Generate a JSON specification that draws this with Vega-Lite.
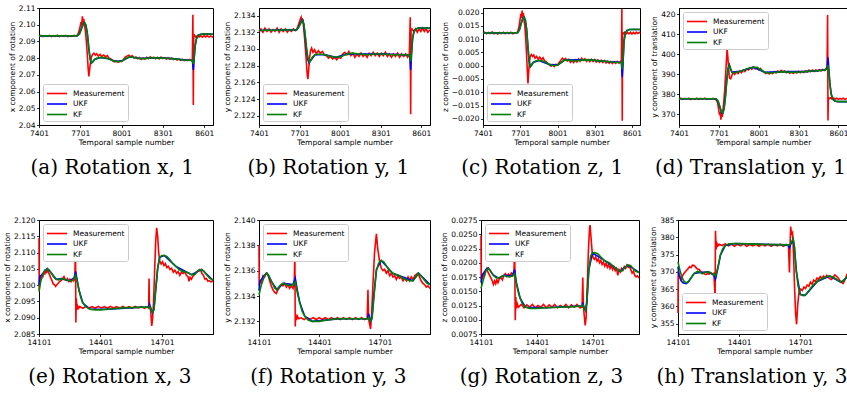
{
"$schema": "https://vega.github.io/schema/vega-lite/v6.json",
"background": "white",
"padding": {"left": 3, "top": 3, "right": 0, "bottom": 0},
"config": {
 "font": "DejaVu Sans",
 "view": {"stroke": "#000", "strokeWidth": 1},
 "axis": {"grid": false, "domainColor": "#000", "tickColor": "#000", "labelColor": "#000", "titleColor": "#000", "labelFontSize": 7.5, "titleFontSize": 7.5, "titleFontWeight": "normal", "labelFont": "DejaVu Sans", "titleFont": "DejaVu Sans", "tickSize": 2.5, "labelPadding": 1.5, "titlePadding": 2, "labelFlush": false, "labelOverlap": false, "domainWidth": 1, "tickWidth": 0.8},
 "legend": {"symbolType": "M-1,0H2.64", "symbolSize": 121, "symbolStrokeWidth": 2, "labelFontSize": 7.5, "labelFont": "DejaVu Sans", "labelColor": "#000", "padding": 3, "rowPadding": 0.5, "labelOffset": 14, "fillColor": "white", "strokeColor": "#cccccc", "cornerRadius": 2, "offset": 4},
 "title": {"font": "DejaVu Serif", "fontSize": 20, "fontWeight": "normal", "color": "#000", "orient": "bottom", "anchor": "middle", "frame": "bounds", "offset": 12},
 "line": {"strokeWidth": 1.6, "clip": true}
},
"datasets": {
"a": [
{"t":7401,"s":"M","v":2.0932},{"t":7415,"s":"M","v":2.0936},{"t":7430,"s":"M","v":2.0929},{"t":7445,"s":"M","v":2.0935},{"t":7460,"s":"M","v":2.0930},{"t":7475,"s":"M","v":2.0936},{"t":7490,"s":"M","v":2.0929},{"t":7505,"s":"M","v":2.0934},{"t":7520,"s":"M","v":2.0930},{"t":7535,"s":"M","v":2.0937},{"t":7550,"s":"M","v":2.0929},{"t":7565,"s":"M","v":2.0935},{"t":7580,"s":"M","v":2.0930},{"t":7595,"s":"M","v":2.0936},{"t":7610,"s":"M","v":2.0929},{"t":7625,"s":"M","v":2.0934},{"t":7640,"s":"M","v":2.0930},{"t":7655,"s":"M","v":2.0936},{"t":7670,"s":"M","v":2.0932},{"t":7682,"s":"M","v":2.0940},{"t":7692,"s":"M","v":2.0962},{"t":7700,"s":"M","v":2.0990},{"t":7706,"s":"M","v":2.1015},{"t":7711,"s":"M","v":2.0995},{"t":7716,"s":"M","v":2.1050},{"t":7721,"s":"M","v":2.1002},{"t":7726,"s":"M","v":2.1035},{"t":7731,"s":"M","v":2.0995},{"t":7738,"s":"M","v":2.0965},{"t":7745,"s":"M","v":2.0900},{"t":7752,"s":"M","v":2.0820},{"t":7758,"s":"M","v":2.0740},{"t":7763,"s":"M","v":2.0690},{"t":7768,"s":"M","v":2.0725},{"t":7774,"s":"M","v":2.0770},{"t":7781,"s":"M","v":2.0805},{"t":7790,"s":"M","v":2.0822},{"t":7800,"s":"M","v":2.0830},{"t":7810,"s":"M","v":2.0818},{"t":7820,"s":"M","v":2.0826},{"t":7832,"s":"M","v":2.0812},{"t":7845,"s":"M","v":2.0822},{"t":7858,"s":"M","v":2.0810},{"t":7871,"s":"M","v":2.0819},{"t":7884,"s":"M","v":2.0808},{"t":7897,"s":"M","v":2.0815},{"t":7910,"s":"M","v":2.0800},{"t":7923,"s":"M","v":2.0795},{"t":7936,"s":"M","v":2.0784},{"t":7949,"s":"M","v":2.0778},{"t":7962,"s":"M","v":2.0784},{"t":7975,"s":"M","v":2.0776},{"t":7988,"s":"M","v":2.0783},{"t":8001,"s":"M","v":2.0779},{"t":8014,"s":"M","v":2.0790},{"t":8027,"s":"M","v":2.0806},{"t":8040,"s":"M","v":2.0812},{"t":8053,"s":"M","v":2.0818},{"t":8066,"s":"M","v":2.0808},{"t":8079,"s":"M","v":2.0814},{"t":8092,"s":"M","v":2.0801},{"t":8105,"s":"M","v":2.0807},{"t":8118,"s":"M","v":2.0796},{"t":8131,"s":"M","v":2.0803},{"t":8144,"s":"M","v":2.0792},{"t":8157,"s":"M","v":2.0801},{"t":8170,"s":"M","v":2.0794},{"t":8183,"s":"M","v":2.0805},{"t":8196,"s":"M","v":2.0797},{"t":8209,"s":"M","v":2.0808},{"t":8222,"s":"M","v":2.0799},{"t":8235,"s":"M","v":2.0806},{"t":8248,"s":"M","v":2.0797},{"t":8261,"s":"M","v":2.0805},{"t":8274,"s":"M","v":2.0796},{"t":8287,"s":"M","v":2.0806},{"t":8300,"s":"M","v":2.0797},{"t":8313,"s":"M","v":2.0803},{"t":8326,"s":"M","v":2.0795},{"t":8339,"s":"M","v":2.0802},{"t":8352,"s":"M","v":2.0794},{"t":8365,"s":"M","v":2.0800},{"t":8378,"s":"M","v":2.0791},{"t":8391,"s":"M","v":2.0797},{"t":8404,"s":"M","v":2.0788},{"t":8417,"s":"M","v":2.0794},{"t":8430,"s":"M","v":2.0787},{"t":8443,"s":"M","v":2.0793},{"t":8456,"s":"M","v":2.0786},{"t":8469,"s":"M","v":2.0791},{"t":8482,"s":"M","v":2.0785},{"t":8495,"s":"M","v":2.0792},{"t":8508,"s":"M","v":2.0786},{"t":8515,"s":"M","v":2.0795},{"t":8519,"s":"M","v":2.1060},{"t":8522,"s":"M","v":2.0520},{"t":8525,"s":"M","v":2.0930},{"t":8530,"s":"M","v":2.0938},{"t":8540,"s":"M","v":2.0926},{"t":8552,"s":"M","v":2.0935},{"t":8564,"s":"M","v":2.0927},{"t":8576,"s":"M","v":2.0934},{"t":8588,"s":"M","v":2.0926},{"t":8600,"s":"M","v":2.0935},{"t":8612,"s":"M","v":2.0927},{"t":8624,"s":"M","v":2.0934},{"t":8636,"s":"M","v":2.0926},{"t":8648,"s":"M","v":2.0933},{"t":8660,"s":"M","v":2.0927},{"t":8665,"s":"M","v":2.0931},
{"t":7401,"s":"U","v":2.0933},{"t":7680,"s":"U","v":2.0934},{"t":7695,"s":"U","v":2.0947},{"t":7710,"s":"U","v":2.0980},{"t":7722,"s":"U","v":2.1006},{"t":7732,"s":"U","v":2.1013},{"t":7742,"s":"U","v":2.0996},{"t":7752,"s":"U","v":2.0945},{"t":7762,"s":"U","v":2.0862},{"t":7772,"s":"U","v":2.0795},{"t":7782,"s":"U","v":2.0770},{"t":7792,"s":"U","v":2.0778},{"t":7805,"s":"U","v":2.0792},{"t":7845,"s":"U","v":2.0804},{"t":7905,"s":"U","v":2.0796},{"t":7960,"s":"U","v":2.0780},{"t":8010,"s":"U","v":2.0786},{"t":8060,"s":"U","v":2.0808},{"t":8130,"s":"U","v":2.0798},{"t":8250,"s":"U","v":2.0802},{"t":8370,"s":"U","v":2.0797},{"t":8490,"s":"U","v":2.0787},{"t":8515,"s":"U","v":2.0786},{"t":8522,"s":"U","v":2.0730},{"t":8528,"s":"U","v":2.0800},{"t":8535,"s":"U","v":2.0875},{"t":8545,"s":"U","v":2.0918},{"t":8558,"s":"U","v":2.0937},{"t":8575,"s":"U","v":2.0943},{"t":8600,"s":"U","v":2.0945},{"t":8665,"s":"U","v":2.0943},
{"t":7401,"s":"K","v":2.0933},{"t":7680,"s":"K","v":2.0934},{"t":7695,"s":"K","v":2.0945},{"t":7710,"s":"K","v":2.0975},{"t":7722,"s":"K","v":2.1003},{"t":7732,"s":"K","v":2.1012},{"t":7742,"s":"K","v":2.0998},{"t":7752,"s":"K","v":2.0950},{"t":7762,"s":"K","v":2.0870},{"t":7772,"s":"K","v":2.0800},{"t":7782,"s":"K","v":2.0772},{"t":7792,"s":"K","v":2.0778},{"t":7805,"s":"K","v":2.0792},{"t":7820,"s":"K","v":2.0799},{"t":7845,"s":"K","v":2.0804},{"t":7875,"s":"K","v":2.0803},{"t":7905,"s":"K","v":2.0796},{"t":7935,"s":"K","v":2.0786},{"t":7960,"s":"K","v":2.0780},{"t":7985,"s":"K","v":2.0779},{"t":8010,"s":"K","v":2.0786},{"t":8035,"s":"K","v":2.0800},{"t":8060,"s":"K","v":2.0808},{"t":8090,"s":"K","v":2.0804},{"t":8130,"s":"K","v":2.0798},{"t":8170,"s":"K","v":2.0797},{"t":8210,"s":"K","v":2.0801},{"t":8250,"s":"K","v":2.0802},{"t":8290,"s":"K","v":2.0800},{"t":8330,"s":"K","v":2.0799},{"t":8370,"s":"K","v":2.0797},{"t":8410,"s":"K","v":2.0793},{"t":8450,"s":"K","v":2.0789},{"t":8490,"s":"K","v":2.0787},{"t":8515,"s":"K","v":2.0786},{"t":8522,"s":"K","v":2.0765},{"t":8528,"s":"K","v":2.0800},{"t":8535,"s":"K","v":2.0870},{"t":8545,"s":"K","v":2.0915},{"t":8558,"s":"K","v":2.0935},{"t":8575,"s":"K","v":2.0942},{"t":8600,"s":"K","v":2.0945},{"t":8630,"s":"K","v":2.0944},{"t":8665,"s":"K","v":2.0943}
],
"b": [
{"t":7401,"s":"M","v":2.1321},{"t":7415,"s":"M","v":2.1324},{"t":7430,"s":"M","v":2.1320},{"t":7445,"s":"M","v":2.1325},{"t":7460,"s":"M","v":2.1321},{"t":7475,"s":"M","v":2.1324},{"t":7490,"s":"M","v":2.1320},{"t":7505,"s":"M","v":2.1323},{"t":7520,"s":"M","v":2.1321},{"t":7535,"s":"M","v":2.1325},{"t":7550,"s":"M","v":2.1320},{"t":7565,"s":"M","v":2.1324},{"t":7580,"s":"M","v":2.1321},{"t":7595,"s":"M","v":2.1324},{"t":7610,"s":"M","v":2.1320},{"t":7625,"s":"M","v":2.1323},{"t":7640,"s":"M","v":2.1321},{"t":7655,"s":"M","v":2.1324},{"t":7670,"s":"M","v":2.1322},{"t":7682,"s":"M","v":2.1324},{"t":7695,"s":"M","v":2.1330},{"t":7705,"s":"M","v":2.1335},{"t":7712,"s":"M","v":2.1338},{"t":7718,"s":"M","v":2.1333},{"t":7724,"s":"M","v":2.1336},{"t":7730,"s":"M","v":2.1327},{"t":7737,"s":"M","v":2.1315},{"t":7745,"s":"M","v":2.1298},{"t":7752,"s":"M","v":2.1282},{"t":7758,"s":"M","v":2.1268},{"t":7763,"s":"M","v":2.1264},{"t":7768,"s":"M","v":2.1275},{"t":7775,"s":"M","v":2.1290},{"t":7782,"s":"M","v":2.1298},{"t":7790,"s":"M","v":2.1301},{"t":7800,"s":"M","v":2.1296},{"t":7812,"s":"M","v":2.1299},{"t":7825,"s":"M","v":2.1294},{"t":7840,"s":"M","v":2.1298},{"t":7855,"s":"M","v":2.1295},{"t":7870,"s":"M","v":2.1297},{"t":7885,"s":"M","v":2.1293},{"t":7900,"s":"M","v":2.1292},{"t":7915,"s":"M","v":2.1289},{"t":7930,"s":"M","v":2.1291},{"t":7945,"s":"M","v":2.1288},{"t":7960,"s":"M","v":2.1290},{"t":7975,"s":"M","v":2.1287},{"t":7990,"s":"M","v":2.1290},{"t":8005,"s":"M","v":2.1289},{"t":8020,"s":"M","v":2.1294},{"t":8035,"s":"M","v":2.1296},{"t":8050,"s":"M","v":2.1293},{"t":8065,"s":"M","v":2.1297},{"t":8080,"s":"M","v":2.1292},{"t":8095,"s":"M","v":2.1295},{"t":8110,"s":"M","v":2.1290},{"t":8125,"s":"M","v":2.1294},{"t":8140,"s":"M","v":2.1291},{"t":8155,"s":"M","v":2.1295},{"t":8170,"s":"M","v":2.1291},{"t":8185,"s":"M","v":2.1294},{"t":8200,"s":"M","v":2.1290},{"t":8215,"s":"M","v":2.1295},{"t":8230,"s":"M","v":2.1292},{"t":8245,"s":"M","v":2.1296},{"t":8260,"s":"M","v":2.1292},{"t":8275,"s":"M","v":2.1295},{"t":8290,"s":"M","v":2.1291},{"t":8305,"s":"M","v":2.1295},{"t":8320,"s":"M","v":2.1292},{"t":8335,"s":"M","v":2.1296},{"t":8350,"s":"M","v":2.1291},{"t":8365,"s":"M","v":2.1294},{"t":8380,"s":"M","v":2.1290},{"t":8395,"s":"M","v":2.1294},{"t":8410,"s":"M","v":2.1291},{"t":8425,"s":"M","v":2.1295},{"t":8440,"s":"M","v":2.1290},{"t":8455,"s":"M","v":2.1294},{"t":8470,"s":"M","v":2.1291},{"t":8485,"s":"M","v":2.1294},{"t":8500,"s":"M","v":2.1290},{"t":8512,"s":"M","v":2.1293},{"t":8519,"s":"M","v":2.1338},{"t":8522,"s":"M","v":2.1222},{"t":8525,"s":"M","v":2.1322},{"t":8532,"s":"M","v":2.1324},{"t":8545,"s":"M","v":2.1321},{"t":8558,"s":"M","v":2.1324},{"t":8571,"s":"M","v":2.1320},{"t":8584,"s":"M","v":2.1324},{"t":8597,"s":"M","v":2.1321},{"t":8610,"s":"M","v":2.1325},{"t":8623,"s":"M","v":2.1321},{"t":8636,"s":"M","v":2.1324},{"t":8649,"s":"M","v":2.1320},{"t":8665,"s":"M","v":2.1323},
{"t":7401,"s":"U","v":2.1322},{"t":7680,"s":"U","v":2.1323},{"t":7695,"s":"U","v":2.1327},{"t":7710,"s":"U","v":2.1332},{"t":7722,"s":"U","v":2.1335},{"t":7732,"s":"U","v":2.1330},{"t":7742,"s":"U","v":2.1316},{"t":7752,"s":"U","v":2.1299},{"t":7762,"s":"U","v":2.1287},{"t":7772,"s":"U","v":2.1283},{"t":7782,"s":"U","v":2.1286},{"t":7815,"s":"U","v":2.1293},{"t":7890,"s":"U","v":2.1293},{"t":7970,"s":"U","v":2.1290},{"t":8050,"s":"U","v":2.1294},{"t":8140,"s":"U","v":2.1294},{"t":8320,"s":"U","v":2.1294},{"t":8500,"s":"U","v":2.1293},{"t":8515,"s":"U","v":2.1292},{"t":8522,"s":"U","v":2.1275},{"t":8528,"s":"U","v":2.1292},{"t":8536,"s":"U","v":2.1312},{"t":8546,"s":"U","v":2.1321},{"t":8560,"s":"U","v":2.1324},{"t":8580,"s":"U","v":2.1325},{"t":8665,"s":"U","v":2.1325},
{"t":7401,"s":"K","v":2.1322},{"t":7680,"s":"K","v":2.1323},{"t":7695,"s":"K","v":2.1326},{"t":7710,"s":"K","v":2.1331},{"t":7722,"s":"K","v":2.1334},{"t":7732,"s":"K","v":2.1330},{"t":7742,"s":"K","v":2.1318},{"t":7752,"s":"K","v":2.1302},{"t":7762,"s":"K","v":2.1290},{"t":7772,"s":"K","v":2.1284},{"t":7782,"s":"K","v":2.1286},{"t":7795,"s":"K","v":2.1290},{"t":7815,"s":"K","v":2.1293},{"t":7850,"s":"K","v":2.1294},{"t":7890,"s":"K","v":2.1293},{"t":7930,"s":"K","v":2.1291},{"t":7970,"s":"K","v":2.1290},{"t":8010,"s":"K","v":2.1291},{"t":8050,"s":"K","v":2.1294},{"t":8090,"s":"K","v":2.1295},{"t":8140,"s":"K","v":2.1294},{"t":8200,"s":"K","v":2.1293},{"t":8260,"s":"K","v":2.1294},{"t":8320,"s":"K","v":2.1294},{"t":8380,"s":"K","v":2.1293},{"t":8440,"s":"K","v":2.1293},{"t":8500,"s":"K","v":2.1293},{"t":8515,"s":"K","v":2.1292},{"t":8522,"s":"K","v":2.1285},{"t":8528,"s":"K","v":2.1295},{"t":8536,"s":"K","v":2.1312},{"t":8546,"s":"K","v":2.1320},{"t":8560,"s":"K","v":2.1324},{"t":8580,"s":"K","v":2.1325},{"t":8620,"s":"K","v":2.1325},{"t":8665,"s":"K","v":2.1325}
],
"c": [
{"t":7401,"s":"M","v":0.0122},{"t":7415,"s":"M","v":0.0126},{"t":7430,"s":"M","v":0.0120},{"t":7445,"s":"M","v":0.0125},{"t":7460,"s":"M","v":0.0121},{"t":7475,"s":"M","v":0.0127},{"t":7490,"s":"M","v":0.0120},{"t":7505,"s":"M","v":0.0124},{"t":7520,"s":"M","v":0.0119},{"t":7535,"s":"M","v":0.0125},{"t":7550,"s":"M","v":0.0121},{"t":7565,"s":"M","v":0.0126},{"t":7580,"s":"M","v":0.0120},{"t":7595,"s":"M","v":0.0125},{"t":7610,"s":"M","v":0.0121},{"t":7625,"s":"M","v":0.0126},{"t":7640,"s":"M","v":0.0120},{"t":7655,"s":"M","v":0.0124},{"t":7670,"s":"M","v":0.0123},{"t":7682,"s":"M","v":0.0130},{"t":7692,"s":"M","v":0.0150},{"t":7700,"s":"M","v":0.0175},{"t":7706,"s":"M","v":0.0195},{"t":7711,"s":"M","v":0.0180},{"t":7716,"s":"M","v":0.0207},{"t":7721,"s":"M","v":0.0185},{"t":7726,"s":"M","v":0.0198},{"t":7731,"s":"M","v":0.0170},{"t":7738,"s":"M","v":0.0150},{"t":7745,"s":"M","v":0.0100},{"t":7752,"s":"M","v":0.0040},{"t":7758,"s":"M","v":-0.0020},{"t":7763,"s":"M","v":-0.0067},{"t":7768,"s":"M","v":-0.0030},{"t":7774,"s":"M","v":0.0010},{"t":7781,"s":"M","v":0.0035},{"t":7790,"s":"M","v":0.0042},{"t":7800,"s":"M","v":0.0035},{"t":7810,"s":"M","v":0.0040},{"t":7820,"s":"M","v":0.0028},{"t":7832,"s":"M","v":0.0035},{"t":7845,"s":"M","v":0.0025},{"t":7858,"s":"M","v":0.0032},{"t":7871,"s":"M","v":0.0022},{"t":7884,"s":"M","v":0.0030},{"t":7897,"s":"M","v":0.0018},{"t":7910,"s":"M","v":0.0015},{"t":7923,"s":"M","v":0.0008},{"t":7936,"s":"M","v":0.0003},{"t":7949,"s":"M","v":-0.0002},{"t":7962,"s":"M","v":0.0004},{"t":7975,"s":"M","v":-0.0003},{"t":7988,"s":"M","v":0.0005},{"t":8001,"s":"M","v":0.0002},{"t":8014,"s":"M","v":0.0012},{"t":8027,"s":"M","v":0.0020},{"t":8040,"s":"M","v":0.0028},{"t":8053,"s":"M","v":0.0022},{"t":8066,"s":"M","v":0.0027},{"t":8079,"s":"M","v":0.0018},{"t":8092,"s":"M","v":0.0024},{"t":8105,"s":"M","v":0.0013},{"t":8118,"s":"M","v":0.0020},{"t":8131,"s":"M","v":0.0012},{"t":8144,"s":"M","v":0.0022},{"t":8157,"s":"M","v":0.0014},{"t":8170,"s":"M","v":0.0025},{"t":8183,"s":"M","v":0.0017},{"t":8196,"s":"M","v":0.0028},{"t":8209,"s":"M","v":0.0020},{"t":8222,"s":"M","v":0.0026},{"t":8235,"s":"M","v":0.0016},{"t":8248,"s":"M","v":0.0023},{"t":8261,"s":"M","v":0.0015},{"t":8274,"s":"M","v":0.0024},{"t":8287,"s":"M","v":0.0016},{"t":8300,"s":"M","v":0.0023},{"t":8313,"s":"M","v":0.0014},{"t":8326,"s":"M","v":0.0021},{"t":8339,"s":"M","v":0.0013},{"t":8352,"s":"M","v":0.0020},{"t":8365,"s":"M","v":0.0012},{"t":8378,"s":"M","v":0.0019},{"t":8391,"s":"M","v":0.0010},{"t":8404,"s":"M","v":0.0017},{"t":8417,"s":"M","v":0.0009},{"t":8430,"s":"M","v":0.0016},{"t":8443,"s":"M","v":0.0008},{"t":8456,"s":"M","v":0.0015},{"t":8469,"s":"M","v":0.0009},{"t":8482,"s":"M","v":0.0016},{"t":8495,"s":"M","v":0.0010},{"t":8508,"s":"M","v":0.0016},{"t":8515,"s":"M","v":0.0012},{"t":8519,"s":"M","v":0.0213},{"t":8522,"s":"M","v":-0.0207},{"t":8525,"s":"M","v":0.0125},{"t":8530,"s":"M","v":0.0120},{"t":8540,"s":"M","v":0.0126},{"t":8552,"s":"M","v":0.0119},{"t":8564,"s":"M","v":0.0125},{"t":8576,"s":"M","v":0.0120},{"t":8588,"s":"M","v":0.0126},{"t":8600,"s":"M","v":0.0119},{"t":8612,"s":"M","v":0.0125},{"t":8624,"s":"M","v":0.0120},{"t":8636,"s":"M","v":0.0126},{"t":8648,"s":"M","v":0.0121},{"t":8660,"s":"M","v":0.0125},{"t":8665,"s":"M","v":0.0122},
{"t":7401,"s":"U","v":0.0123},{"t":7680,"s":"U","v":0.0124},{"t":7695,"s":"U","v":0.0137},{"t":7710,"s":"U","v":0.0163},{"t":7722,"s":"U","v":0.0180},{"t":7732,"s":"U","v":0.0183},{"t":7742,"s":"U","v":0.0170},{"t":7752,"s":"U","v":0.0135},{"t":7762,"s":"U","v":0.0072},{"t":7772,"s":"U","v":0.0015},{"t":7782,"s":"U","v":-0.0004},{"t":7805,"s":"U","v":0.0012},{"t":7850,"s":"U","v":0.0020},{"t":7940,"s":"U","v":0.0004},{"t":8000,"s":"U","v":0.0002},{"t":8060,"s":"U","v":0.0022},{"t":8250,"s":"U","v":0.0022},{"t":8400,"s":"U","v":0.0016},{"t":8515,"s":"U","v":0.0012},{"t":8522,"s":"U","v":-0.0043},{"t":8528,"s":"U","v":0.0005},{"t":8536,"s":"U","v":0.0092},{"t":8546,"s":"U","v":0.0122},{"t":8560,"s":"U","v":0.0133},{"t":8580,"s":"U","v":0.0136},{"t":8665,"s":"U","v":0.0136},
{"t":7401,"s":"K","v":0.0123},{"t":7680,"s":"K","v":0.0124},{"t":7695,"s":"K","v":0.0135},{"t":7710,"s":"K","v":0.0160},{"t":7722,"s":"K","v":0.0178},{"t":7732,"s":"K","v":0.0183},{"t":7742,"s":"K","v":0.0172},{"t":7752,"s":"K","v":0.0140},{"t":7762,"s":"K","v":0.0080},{"t":7772,"s":"K","v":0.0020},{"t":7782,"s":"K","v":-0.0003},{"t":7792,"s":"K","v":0.0002},{"t":7805,"s":"K","v":0.0012},{"t":7825,"s":"K","v":0.0018},{"t":7850,"s":"K","v":0.0020},{"t":7880,"s":"K","v":0.0018},{"t":7910,"s":"K","v":0.0012},{"t":7940,"s":"K","v":0.0004},{"t":7970,"s":"K","v":0.0000},{"t":8000,"s":"K","v":0.0002},{"t":8030,"s":"K","v":0.0012},{"t":8060,"s":"K","v":0.0022},{"t":8100,"s":"K","v":0.0020},{"t":8150,"s":"K","v":0.0018},{"t":8200,"s":"K","v":0.0021},{"t":8250,"s":"K","v":0.0022},{"t":8300,"s":"K","v":0.0020},{"t":8350,"s":"K","v":0.0018},{"t":8400,"s":"K","v":0.0016},{"t":8450,"s":"K","v":0.0013},{"t":8500,"s":"K","v":0.0012},{"t":8515,"s":"K","v":0.0012},{"t":8522,"s":"K","v":-0.0013},{"t":8528,"s":"K","v":0.0015},{"t":8536,"s":"K","v":0.0090},{"t":8546,"s":"K","v":0.0120},{"t":8560,"s":"K","v":0.0132},{"t":8580,"s":"K","v":0.0136},{"t":8620,"s":"K","v":0.0137},{"t":8665,"s":"K","v":0.0136}
],
"d": [
{"t":7401,"s":"M","v":377.5},{"t":7415,"s":"M","v":377.9},{"t":7430,"s":"M","v":377.3},{"t":7445,"s":"M","v":377.8},{"t":7460,"s":"M","v":377.4},{"t":7475,"s":"M","v":377.9},{"t":7490,"s":"M","v":377.2},{"t":7505,"s":"M","v":377.7},{"t":7520,"s":"M","v":377.4},{"t":7535,"s":"M","v":377.9},{"t":7550,"s":"M","v":377.3},{"t":7565,"s":"M","v":377.8},{"t":7580,"s":"M","v":377.4},{"t":7595,"s":"M","v":377.9},{"t":7610,"s":"M","v":377.3},{"t":7625,"s":"M","v":377.7},{"t":7640,"s":"M","v":377.4},{"t":7655,"s":"M","v":377.8},{"t":7670,"s":"M","v":377.5},{"t":7682,"s":"M","v":377.0},{"t":7692,"s":"M","v":375.5},{"t":7700,"s":"M","v":372.0},{"t":7706,"s":"M","v":369.5},{"t":7711,"s":"M","v":371.0},{"t":7716,"s":"M","v":367.2},{"t":7721,"s":"M","v":370.0},{"t":7726,"s":"M","v":368.5},{"t":7731,"s":"M","v":371.5},{"t":7738,"s":"M","v":376.0},{"t":7745,"s":"M","v":382.0},{"t":7752,"s":"M","v":390.0},{"t":7758,"s":"M","v":397.0},{"t":7763,"s":"M","v":402.4},{"t":7768,"s":"M","v":399.0},{"t":7774,"s":"M","v":393.0},{"t":7781,"s":"M","v":388.0},{"t":7790,"s":"M","v":387.6},{"t":7800,"s":"M","v":389.5},{"t":7810,"s":"M","v":390.8},{"t":7820,"s":"M","v":389.8},{"t":7832,"s":"M","v":391.0},{"t":7845,"s":"M","v":390.2},{"t":7858,"s":"M","v":391.5},{"t":7871,"s":"M","v":390.6},{"t":7884,"s":"M","v":392.0},{"t":7897,"s":"M","v":391.2},{"t":7910,"s":"M","v":392.6},{"t":7923,"s":"M","v":392.0},{"t":7936,"s":"M","v":393.2},{"t":7949,"s":"M","v":392.4},{"t":7962,"s":"M","v":393.5},{"t":7975,"s":"M","v":392.6},{"t":7988,"s":"M","v":393.3},{"t":8001,"s":"M","v":392.2},{"t":8014,"s":"M","v":392.8},{"t":8027,"s":"M","v":391.4},{"t":8040,"s":"M","v":391.0},{"t":8053,"s":"M","v":390.2},{"t":8066,"s":"M","v":390.8},{"t":8079,"s":"M","v":390.0},{"t":8092,"s":"M","v":390.9},{"t":8105,"s":"M","v":390.2},{"t":8118,"s":"M","v":391.2},{"t":8131,"s":"M","v":390.5},{"t":8144,"s":"M","v":391.5},{"t":8157,"s":"M","v":391.0},{"t":8170,"s":"M","v":391.8},{"t":8183,"s":"M","v":391.0},{"t":8196,"s":"M","v":391.5},{"t":8209,"s":"M","v":390.6},{"t":8222,"s":"M","v":391.2},{"t":8235,"s":"M","v":390.4},{"t":8248,"s":"M","v":391.0},{"t":8261,"s":"M","v":390.3},{"t":8274,"s":"M","v":391.1},{"t":8287,"s":"M","v":390.5},{"t":8300,"s":"M","v":391.3},{"t":8313,"s":"M","v":390.6},{"t":8326,"s":"M","v":391.4},{"t":8339,"s":"M","v":390.8},{"t":8352,"s":"M","v":391.6},{"t":8365,"s":"M","v":391.0},{"t":8378,"s":"M","v":391.9},{"t":8391,"s":"M","v":391.2},{"t":8404,"s":"M","v":392.0},{"t":8417,"s":"M","v":391.3},{"t":8430,"s":"M","v":392.0},{"t":8443,"s":"M","v":391.4},{"t":8456,"s":"M","v":392.1},{"t":8469,"s":"M","v":391.6},{"t":8482,"s":"M","v":392.3},{"t":8495,"s":"M","v":391.8},{"t":8508,"s":"M","v":392.8},{"t":8515,"s":"M","v":393.5},{"t":8519,"s":"M","v":419.5},{"t":8522,"s":"M","v":366.7},{"t":8525,"s":"M","v":378.2},{"t":8530,"s":"M","v":377.6},{"t":8540,"s":"M","v":378.1},{"t":8552,"s":"M","v":377.5},{"t":8564,"s":"M","v":378.0},{"t":8576,"s":"M","v":377.4},{"t":8588,"s":"M","v":377.9},{"t":8600,"s":"M","v":377.3},{"t":8612,"s":"M","v":377.8},{"t":8624,"s":"M","v":377.4},{"t":8636,"s":"M","v":377.9},{"t":8648,"s":"M","v":377.3},{"t":8660,"s":"M","v":377.7},{"t":8665,"s":"M","v":377.5},
{"t":7401,"s":"U","v":377.6},{"t":7680,"s":"U","v":377.6},{"t":7695,"s":"U","v":376.3},{"t":7710,"s":"U","v":373.0},{"t":7722,"s":"U","v":370.4},{"t":7730,"s":"U","v":370.3},{"t":7740,"s":"U","v":372.8},{"t":7750,"s":"U","v":378.8},{"t":7760,"s":"U","v":387.0},{"t":7770,"s":"U","v":392.8},{"t":7780,"s":"U","v":394.6},{"t":7790,"s":"U","v":392.3},{"t":7800,"s":"U","v":390.8},{"t":7870,"s":"U","v":391.5},{"t":7960,"s":"U","v":393.4},{"t":8050,"s":"U","v":390.8},{"t":8190,"s":"U","v":391.2},{"t":8350,"s":"U","v":391.2},{"t":8500,"s":"U","v":392.0},{"t":8515,"s":"U","v":393.0},{"t":8522,"s":"U","v":398.3},{"t":8528,"s":"U","v":393.0},{"t":8536,"s":"U","v":385.5},{"t":8546,"s":"U","v":380.0},{"t":8558,"s":"U","v":377.3},{"t":8575,"s":"U","v":376.4},{"t":8600,"s":"U","v":376.2},{"t":8665,"s":"U","v":376.2},
{"t":7401,"s":"K","v":377.6},{"t":7680,"s":"K","v":377.6},{"t":7695,"s":"K","v":376.5},{"t":7710,"s":"K","v":373.5},{"t":7722,"s":"K","v":370.8},{"t":7730,"s":"K","v":370.5},{"t":7740,"s":"K","v":372.5},{"t":7750,"s":"K","v":378.0},{"t":7760,"s":"K","v":386.0},{"t":7770,"s":"K","v":392.0},{"t":7780,"s":"K","v":394.5},{"t":7790,"s":"K","v":392.5},{"t":7800,"s":"K","v":390.8},{"t":7815,"s":"K","v":390.5},{"t":7840,"s":"K","v":391.0},{"t":7870,"s":"K","v":391.5},{"t":7900,"s":"K","v":392.3},{"t":7930,"s":"K","v":393.0},{"t":7960,"s":"K","v":393.4},{"t":7990,"s":"K","v":393.2},{"t":8020,"s":"K","v":392.0},{"t":8050,"s":"K","v":390.8},{"t":8080,"s":"K","v":390.5},{"t":8110,"s":"K","v":390.6},{"t":8150,"s":"K","v":391.0},{"t":8190,"s":"K","v":391.2},{"t":8230,"s":"K","v":390.9},{"t":8270,"s":"K","v":390.8},{"t":8310,"s":"K","v":391.0},{"t":8350,"s":"K","v":391.2},{"t":8390,"s":"K","v":391.4},{"t":8430,"s":"K","v":391.6},{"t":8470,"s":"K","v":391.8},{"t":8500,"s":"K","v":392.0},{"t":8515,"s":"K","v":392.5},{"t":8522,"s":"K","v":394.5},{"t":8528,"s":"K","v":391.5},{"t":8536,"s":"K","v":385.0},{"t":8546,"s":"K","v":380.0},{"t":8558,"s":"K","v":377.5},{"t":8575,"s":"K","v":376.5},{"t":8600,"s":"K","v":376.2},{"t":8665,"s":"K","v":376.2}
],
"e": [
{"t":14101,"s":"M","v":2.1145},{"t":14102,"s":"M","v":2.0985},{"t":14104,"s":"M","v":2.1010},{"t":14109,"s":"M","v":2.1025},{"t":14113,"s":"M","v":2.1020},{"t":14117,"s":"M","v":2.1032},{"t":14121,"s":"M","v":2.1028},{"t":14125,"s":"M","v":2.1038},{"t":14130,"s":"M","v":2.1035},{"t":14134,"s":"M","v":2.1044},{"t":14138,"s":"M","v":2.1040},{"t":14142,"s":"M","v":2.1048},{"t":14147,"s":"M","v":2.1038},{"t":14152,"s":"M","v":2.1033},{"t":14158,"s":"M","v":2.1022},{"t":14164,"s":"M","v":2.1015},{"t":14170,"s":"M","v":2.1004},{"t":14176,"s":"M","v":2.1002},{"t":14182,"s":"M","v":2.0996},{"t":14188,"s":"M","v":2.1001},{"t":14194,"s":"M","v":2.1005},{"t":14200,"s":"M","v":2.1010},{"t":14206,"s":"M","v":2.1013},{"t":14212,"s":"M","v":2.1016},{"t":14218,"s":"M","v":2.1022},{"t":14223,"s":"M","v":2.1026},{"t":14228,"s":"M","v":2.1018},{"t":14234,"s":"M","v":2.1015},{"t":14240,"s":"M","v":2.1020},{"t":14246,"s":"M","v":2.1012},{"t":14252,"s":"M","v":2.1018},{"t":14258,"s":"M","v":2.1011},{"t":14264,"s":"M","v":2.1017},{"t":14270,"s":"M","v":2.1013},{"t":14276,"s":"M","v":2.1022},{"t":14279,"s":"M","v":2.1130},{"t":14281,"s":"M","v":2.0885},{"t":14283,"s":"M","v":2.0960},{"t":14286,"s":"M","v":2.0924},{"t":14290,"s":"M","v":2.0936},{"t":14295,"s":"M","v":2.0929},{"t":14300,"s":"M","v":2.0934},{"t":14315,"s":"M","v":2.0929},{"t":14330,"s":"M","v":2.0935},{"t":14345,"s":"M","v":2.0930},{"t":14360,"s":"M","v":2.0934},{"t":14375,"s":"M","v":2.0929},{"t":14390,"s":"M","v":2.0935},{"t":14405,"s":"M","v":2.0930},{"t":14420,"s":"M","v":2.0934},{"t":14435,"s":"M","v":2.0929},{"t":14450,"s":"M","v":2.0935},{"t":14465,"s":"M","v":2.0930},{"t":14480,"s":"M","v":2.0934},{"t":14495,"s":"M","v":2.0929},{"t":14510,"s":"M","v":2.0935},{"t":14525,"s":"M","v":2.0930},{"t":14540,"s":"M","v":2.0934},{"t":14555,"s":"M","v":2.0929},{"t":14570,"s":"M","v":2.0935},{"t":14585,"s":"M","v":2.0930},{"t":14600,"s":"M","v":2.0934},{"t":14615,"s":"M","v":2.0929},{"t":14630,"s":"M","v":2.0934},{"t":14636,"s":"M","v":2.0930},{"t":14638,"s":"M","v":2.1020},{"t":14640,"s":"M","v":2.0928},{"t":14644,"s":"M","v":2.0935},{"t":14648,"s":"M","v":2.0905},{"t":14651,"s":"M","v":2.0875},{"t":14655,"s":"M","v":2.0895},{"t":14660,"s":"M","v":2.0950},{"t":14665,"s":"M","v":2.1040},{"t":14670,"s":"M","v":2.1130},{"t":14675,"s":"M","v":2.1176},{"t":14680,"s":"M","v":2.1150},{"t":14685,"s":"M","v":2.1100},{"t":14690,"s":"M","v":2.1075},{"t":14697,"s":"M","v":2.1065},{"t":14704,"s":"M","v":2.1072},{"t":14711,"s":"M","v":2.1060},{"t":14718,"s":"M","v":2.1066},{"t":14725,"s":"M","v":2.1054},{"t":14732,"s":"M","v":2.1058},{"t":14740,"s":"M","v":2.1048},{"t":14748,"s":"M","v":2.1052},{"t":14756,"s":"M","v":2.1040},{"t":14764,"s":"M","v":2.1046},{"t":14772,"s":"M","v":2.1036},{"t":14780,"s":"M","v":2.1042},{"t":14788,"s":"M","v":2.1030},{"t":14796,"s":"M","v":2.1040},{"t":14804,"s":"M","v":2.1036},{"t":14812,"s":"M","v":2.1042},{"t":14820,"s":"M","v":2.1030},{"t":14828,"s":"M","v":2.1026},{"t":14833,"s":"M","v":2.1012},{"t":14838,"s":"M","v":2.1024},{"t":14845,"s":"M","v":2.1018},{"t":14852,"s":"M","v":2.1028},{"t":14860,"s":"M","v":2.1032},{"t":14868,"s":"M","v":2.1040},{"t":14876,"s":"M","v":2.1044},{"t":14884,"s":"M","v":2.1048},{"t":14890,"s":"M","v":2.1045},{"t":14897,"s":"M","v":2.1035},{"t":14904,"s":"M","v":2.1030},{"t":14911,"s":"M","v":2.1018},{"t":14918,"s":"M","v":2.1020},{"t":14925,"s":"M","v":2.1012},{"t":14932,"s":"M","v":2.1014},{"t":14940,"s":"M","v":2.1010},{"t":14950,"s":"M","v":2.1012},
{"t":14101,"s":"U","v":2.1000},{"t":14105,"s":"U","v":2.1028},{"t":14112,"s":"U","v":2.1030},{"t":14120,"s":"U","v":2.1035},{"t":14130,"s":"U","v":2.1046},{"t":14142,"s":"U","v":2.1050},{"t":14160,"s":"U","v":2.1038},{"t":14185,"s":"U","v":2.1018},{"t":14210,"s":"U","v":2.1020},{"t":14250,"s":"U","v":2.1013},{"t":14272,"s":"U","v":2.1022},{"t":14280,"s":"U","v":2.1042},{"t":14288,"s":"U","v":2.1012},{"t":14296,"s":"U","v":2.0985},{"t":14315,"s":"U","v":2.0945},{"t":14350,"s":"U","v":2.0926},{"t":14440,"s":"U","v":2.0926},{"t":14600,"s":"U","v":2.0932},{"t":14636,"s":"U","v":2.0932},{"t":14640,"s":"U","v":2.0942},{"t":14648,"s":"U","v":2.0927},{"t":14655,"s":"U","v":2.0915},{"t":14662,"s":"U","v":2.0927},{"t":14670,"s":"U","v":2.0985},{"t":14680,"s":"U","v":2.1052},{"t":14690,"s":"U","v":2.1086},{"t":14712,"s":"U","v":2.1091},{"t":14770,"s":"U","v":2.1057},{"t":14845,"s":"U","v":2.1032},{"t":14895,"s":"U","v":2.1048},{"t":14950,"s":"U","v":2.1015},
{"t":14101,"s":"K","v":2.0980},{"t":14109,"s":"K","v":2.1010},{"t":14117,"s":"K","v":2.1028},{"t":14125,"s":"K","v":2.1040},{"t":14134,"s":"K","v":2.1047},{"t":14142,"s":"K","v":2.1050},{"t":14150,"s":"K","v":2.1047},{"t":14160,"s":"K","v":2.1038},{"t":14172,"s":"K","v":2.1026},{"t":14185,"s":"K","v":2.1018},{"t":14198,"s":"K","v":2.1016},{"t":14210,"s":"K","v":2.1020},{"t":14223,"s":"K","v":2.1019},{"t":14236,"s":"K","v":2.1016},{"t":14250,"s":"K","v":2.1013},{"t":14262,"s":"K","v":2.1014},{"t":14272,"s":"K","v":2.1020},{"t":14280,"s":"K","v":2.1030},{"t":14288,"s":"K","v":2.1010},{"t":14296,"s":"K","v":2.0985},{"t":14305,"s":"K","v":2.0962},{"t":14315,"s":"K","v":2.0945},{"t":14330,"s":"K","v":2.0933},{"t":14350,"s":"K","v":2.0926},{"t":14375,"s":"K","v":2.0924},{"t":14400,"s":"K","v":2.0924},{"t":14440,"s":"K","v":2.0926},{"t":14490,"s":"K","v":2.0929},{"t":14540,"s":"K","v":2.0931},{"t":14600,"s":"K","v":2.0932},{"t":14636,"s":"K","v":2.0932},{"t":14640,"s":"K","v":2.0935},{"t":14648,"s":"K","v":2.0925},{"t":14655,"s":"K","v":2.0916},{"t":14662,"s":"K","v":2.0925},{"t":14670,"s":"K","v":2.0980},{"t":14680,"s":"K","v":2.1050},{"t":14690,"s":"K","v":2.1085},{"t":14700,"s":"K","v":2.1091},{"t":14712,"s":"K","v":2.1091},{"t":14725,"s":"K","v":2.1088},{"t":14740,"s":"K","v":2.1078},{"t":14755,"s":"K","v":2.1066},{"t":14770,"s":"K","v":2.1057},{"t":14785,"s":"K","v":2.1048},{"t":14800,"s":"K","v":2.1043},{"t":14815,"s":"K","v":2.1041},{"t":14830,"s":"K","v":2.1037},{"t":14845,"s":"K","v":2.1032},{"t":14860,"s":"K","v":2.1033},{"t":14872,"s":"K","v":2.1040},{"t":14885,"s":"K","v":2.1047},{"t":14895,"s":"K","v":2.1048},{"t":14905,"s":"K","v":2.1043},{"t":14918,"s":"K","v":2.1033},{"t":14932,"s":"K","v":2.1022},{"t":14950,"s":"K","v":2.1015}
],
"f": [
{"t":14101,"s":"M","v":2.1380},{"t":14102,"s":"M","v":2.1348},{"t":14106,"s":"M","v":2.1352},{"t":14113,"s":"M","v":2.1350},{"t":14121,"s":"M","v":2.1356},{"t":14129,"s":"M","v":2.1355},{"t":14137,"s":"M","v":2.1358},{"t":14146,"s":"M","v":2.1357},{"t":14154,"s":"M","v":2.1352},{"t":14162,"s":"M","v":2.1348},{"t":14170,"s":"M","v":2.1345},{"t":14178,"s":"M","v":2.1343},{"t":14187,"s":"M","v":2.1342},{"t":14195,"s":"M","v":2.1345},{"t":14204,"s":"M","v":2.1347},{"t":14212,"s":"M","v":2.1349},{"t":14220,"s":"M","v":2.1348},{"t":14228,"s":"M","v":2.1350},{"t":14237,"s":"M","v":2.1347},{"t":14245,"s":"M","v":2.1349},{"t":14253,"s":"M","v":2.1346},{"t":14262,"s":"M","v":2.1348},{"t":14270,"s":"M","v":2.1346},{"t":14276,"s":"M","v":2.1350},{"t":14279,"s":"M","v":2.1375},{"t":14281,"s":"M","v":2.1316},{"t":14283,"s":"M","v":2.1326},{"t":14287,"s":"M","v":2.1321},{"t":14292,"s":"M","v":2.1324},{"t":14298,"s":"M","v":2.1322},{"t":14310,"s":"M","v":2.13228},{"t":14325,"s":"M","v":2.13214},{"t":14340,"s":"M","v":2.13229},{"t":14355,"s":"M","v":2.13215},{"t":14370,"s":"M","v":2.13228},{"t":14385,"s":"M","v":2.13214},{"t":14400,"s":"M","v":2.13229},{"t":14415,"s":"M","v":2.13215},{"t":14430,"s":"M","v":2.13228},{"t":14445,"s":"M","v":2.13214},{"t":14460,"s":"M","v":2.13229},{"t":14475,"s":"M","v":2.13215},{"t":14490,"s":"M","v":2.13228},{"t":14505,"s":"M","v":2.13214},{"t":14520,"s":"M","v":2.13229},{"t":14535,"s":"M","v":2.13215},{"t":14550,"s":"M","v":2.13228},{"t":14565,"s":"M","v":2.13214},{"t":14580,"s":"M","v":2.13229},{"t":14595,"s":"M","v":2.13215},{"t":14610,"s":"M","v":2.13228},{"t":14625,"s":"M","v":2.13214},{"t":14638,"s":"M","v":2.13225},{"t":14642,"s":"M","v":2.1345},{"t":14645,"s":"M","v":2.1322},{"t":14650,"s":"M","v":2.1318},{"t":14655,"s":"M","v":2.1314},{"t":14660,"s":"M","v":2.1325},{"t":14667,"s":"M","v":2.1350},{"t":14675,"s":"M","v":2.1375},{"t":14684,"s":"M","v":2.1389},{"t":14690,"s":"M","v":2.1378},{"t":14700,"s":"M","v":2.1367},{"t":14708,"s":"M","v":2.1362},{"t":14717,"s":"M","v":2.1360},{"t":14725,"s":"M","v":2.1361},{"t":14733,"s":"M","v":2.1358},{"t":14741,"s":"M","v":2.1360},{"t":14750,"s":"M","v":2.1356},{"t":14758,"s":"M","v":2.1358},{"t":14766,"s":"M","v":2.1355},{"t":14775,"s":"M","v":2.1356},{"t":14783,"s":"M","v":2.1353},{"t":14791,"s":"M","v":2.1356},{"t":14799,"s":"M","v":2.1354},{"t":14807,"s":"M","v":2.1355},{"t":14816,"s":"M","v":2.1352},{"t":14824,"s":"M","v":2.1354},{"t":14833,"s":"M","v":2.1352},{"t":14841,"s":"M","v":2.1355},{"t":14849,"s":"M","v":2.1352},{"t":14857,"s":"M","v":2.1355},{"t":14866,"s":"M","v":2.1353},{"t":14874,"s":"M","v":2.1356},{"t":14882,"s":"M","v":2.1357},{"t":14890,"s":"M","v":2.1358},{"t":14898,"s":"M","v":2.1355},{"t":14906,"s":"M","v":2.1352},{"t":14915,"s":"M","v":2.1350},{"t":14923,"s":"M","v":2.1349},{"t":14932,"s":"M","v":2.1347},{"t":14940,"s":"M","v":2.1348},{"t":14950,"s":"M","v":2.1346},
{"t":14101,"s":"U","v":2.1344},{"t":14105,"s":"U","v":2.1352},{"t":14113,"s":"U","v":2.1353},{"t":14125,"s":"U","v":2.1356},{"t":14140,"s":"U","v":2.1358},{"t":14165,"s":"U","v":2.1351},{"t":14190,"s":"U","v":2.1345},{"t":14220,"s":"U","v":2.1350},{"t":14270,"s":"U","v":2.1349},{"t":14281,"s":"U","v":2.1354},{"t":14292,"s":"U","v":2.1344},{"t":14303,"s":"U","v":2.1335},{"t":14328,"s":"U","v":2.1324},{"t":14365,"s":"U","v":2.1320},{"t":14500,"s":"U","v":2.1322},{"t":14640,"s":"U","v":2.1322},{"t":14645,"s":"U","v":2.1326},{"t":14655,"s":"U","v":2.1320},{"t":14662,"s":"U","v":2.1323},{"t":14672,"s":"U","v":2.1342},{"t":14684,"s":"U","v":2.1361},{"t":14708,"s":"U","v":2.1368},{"t":14765,"s":"U","v":2.1358},{"t":14865,"s":"U","v":2.1352},{"t":14893,"s":"U","v":2.1358},{"t":14950,"s":"U","v":2.1349},
{"t":14101,"s":"K","v":2.1341},{"t":14113,"s":"K","v":2.1349},{"t":14129,"s":"K","v":2.1356},{"t":14140,"s":"K","v":2.1358},{"t":14150,"s":"K","v":2.1356},{"t":14165,"s":"K","v":2.1351},{"t":14180,"s":"K","v":2.1346},{"t":14190,"s":"K","v":2.1345},{"t":14204,"s":"K","v":2.1348},{"t":14220,"s":"K","v":2.1350},{"t":14237,"s":"K","v":2.1349},{"t":14255,"s":"K","v":2.1348},{"t":14270,"s":"K","v":2.1349},{"t":14281,"s":"K","v":2.1351},{"t":14292,"s":"K","v":2.1342},{"t":14303,"s":"K","v":2.1335},{"t":14315,"s":"K","v":2.1328},{"t":14328,"s":"K","v":2.1324},{"t":14345,"s":"K","v":2.1321},{"t":14365,"s":"K","v":2.1320},{"t":14400,"s":"K","v":2.1320},{"t":14440,"s":"K","v":2.1321},{"t":14500,"s":"K","v":2.1322},{"t":14560,"s":"K","v":2.1322},{"t":14640,"s":"K","v":2.1322},{"t":14645,"s":"K","v":2.1323},{"t":14655,"s":"K","v":2.1320},{"t":14662,"s":"K","v":2.1322},{"t":14672,"s":"K","v":2.1340},{"t":14684,"s":"K","v":2.1360},{"t":14695,"s":"K","v":2.1366},{"t":14708,"s":"K","v":2.1368},{"t":14720,"s":"K","v":2.1367},{"t":14733,"s":"K","v":2.1364},{"t":14750,"s":"K","v":2.1360},{"t":14765,"s":"K","v":2.1358},{"t":14780,"s":"K","v":2.1357},{"t":14799,"s":"K","v":2.1356},{"t":14816,"s":"K","v":2.1354},{"t":14833,"s":"K","v":2.1353},{"t":14849,"s":"K","v":2.1352},{"t":14865,"s":"K","v":2.1352},{"t":14880,"s":"K","v":2.1355},{"t":14893,"s":"K","v":2.1358},{"t":14905,"s":"K","v":2.1356},{"t":14920,"s":"K","v":2.1353},{"t":14935,"s":"K","v":2.1350},{"t":14950,"s":"K","v":2.1349}
],
"g": [
{"t":14101,"s":"M","v":0.0248},{"t":14102,"s":"M","v":0.0171},{"t":14106,"s":"M","v":0.0176},{"t":14110,"s":"M","v":0.0173},{"t":14115,"s":"M","v":0.0180},{"t":14120,"s":"M","v":0.0178},{"t":14126,"s":"M","v":0.0186},{"t":14132,"s":"M","v":0.0190},{"t":14138,"s":"M","v":0.0184},{"t":14144,"s":"M","v":0.0180},{"t":14150,"s":"M","v":0.0176},{"t":14156,"s":"M","v":0.0172},{"t":14162,"s":"M","v":0.0168},{"t":14168,"s":"M","v":0.0162},{"t":14174,"s":"M","v":0.0168},{"t":14180,"s":"M","v":0.0163},{"t":14186,"s":"M","v":0.0170},{"t":14192,"s":"M","v":0.0165},{"t":14200,"s":"M","v":0.0172},{"t":14208,"s":"M","v":0.0174},{"t":14216,"s":"M","v":0.0170},{"t":14224,"s":"M","v":0.0178},{"t":14232,"s":"M","v":0.0181},{"t":14240,"s":"M","v":0.0176},{"t":14248,"s":"M","v":0.0180},{"t":14256,"s":"M","v":0.0177},{"t":14264,"s":"M","v":0.0182},{"t":14272,"s":"M","v":0.0178},{"t":14278,"s":"M","v":0.0185},{"t":14282,"s":"M","v":0.0224},{"t":14285,"s":"M","v":0.0099},{"t":14288,"s":"M","v":0.0140},{"t":14291,"s":"M","v":0.0120},{"t":14296,"s":"M","v":0.0128},{"t":14302,"s":"M","v":0.0122},{"t":14317,"s":"M","v":0.0127},{"t":14332,"s":"M","v":0.0121},{"t":14347,"s":"M","v":0.0126},{"t":14362,"s":"M","v":0.0122},{"t":14377,"s":"M","v":0.0127},{"t":14392,"s":"M","v":0.0121},{"t":14407,"s":"M","v":0.0125},{"t":14422,"s":"M","v":0.0122},{"t":14437,"s":"M","v":0.0127},{"t":14452,"s":"M","v":0.0121},{"t":14467,"s":"M","v":0.0126},{"t":14482,"s":"M","v":0.0122},{"t":14497,"s":"M","v":0.0127},{"t":14512,"s":"M","v":0.0121},{"t":14527,"s":"M","v":0.0125},{"t":14542,"s":"M","v":0.0122},{"t":14557,"s":"M","v":0.0127},{"t":14572,"s":"M","v":0.0121},{"t":14587,"s":"M","v":0.0126},{"t":14602,"s":"M","v":0.0122},{"t":14617,"s":"M","v":0.0127},{"t":14632,"s":"M","v":0.0121},{"t":14644,"s":"M","v":0.0122},{"t":14648,"s":"M","v":0.0174},{"t":14651,"s":"M","v":0.0125},{"t":14655,"s":"M","v":0.0110},{"t":14661,"s":"M","v":0.0090},{"t":14666,"s":"M","v":0.0105},{"t":14672,"s":"M","v":0.0160},{"t":14678,"s":"M","v":0.0220},{"t":14684,"s":"M","v":0.0260},{"t":14687,"s":"M","v":0.0266},{"t":14692,"s":"M","v":0.0245},{"t":14698,"s":"M","v":0.0220},{"t":14703,"s":"M","v":0.0209},{"t":14710,"s":"M","v":0.0206},{"t":14717,"s":"M","v":0.0210},{"t":14724,"s":"M","v":0.0203},{"t":14731,"s":"M","v":0.0207},{"t":14738,"s":"M","v":0.0200},{"t":14745,"s":"M","v":0.0204},{"t":14752,"s":"M","v":0.0197},{"t":14759,"s":"M","v":0.0201},{"t":14766,"s":"M","v":0.0194},{"t":14773,"s":"M","v":0.0199},{"t":14780,"s":"M","v":0.0192},{"t":14787,"s":"M","v":0.0197},{"t":14794,"s":"M","v":0.0190},{"t":14801,"s":"M","v":0.0195},{"t":14808,"s":"M","v":0.0188},{"t":14815,"s":"M","v":0.0193},{"t":14822,"s":"M","v":0.0186},{"t":14829,"s":"M","v":0.0190},{"t":14836,"s":"M","v":0.0178},{"t":14843,"s":"M","v":0.0188},{"t":14850,"s":"M","v":0.0184},{"t":14857,"s":"M","v":0.0190},{"t":14864,"s":"M","v":0.0187},{"t":14871,"s":"M","v":0.0193},{"t":14878,"s":"M","v":0.0190},{"t":14885,"s":"M","v":0.0196},{"t":14892,"s":"M","v":0.0192},{"t":14899,"s":"M","v":0.0193},{"t":14906,"s":"M","v":0.0188},{"t":14913,"s":"M","v":0.0182},{"t":14920,"s":"M","v":0.0185},{"t":14927,"s":"M","v":0.0178},{"t":14934,"s":"M","v":0.0175},{"t":14942,"s":"M","v":0.0177},{"t":14950,"s":"M","v":0.0173},
{"t":14101,"s":"U","v":0.0165},{"t":14106,"s":"U","v":0.0178},{"t":14115,"s":"U","v":0.0182},{"t":14128,"s":"U","v":0.0188},{"t":14140,"s":"U","v":0.0191},{"t":14165,"s":"U","v":0.0179},{"t":14195,"s":"U","v":0.0173},{"t":14225,"s":"U","v":0.0178},{"t":14270,"s":"U","v":0.0177},{"t":14282,"s":"U","v":0.0188},{"t":14290,"s":"U","v":0.0167},{"t":14311,"s":"U","v":0.0138},{"t":14340,"s":"U","v":0.0122},{"t":14450,"s":"U","v":0.0121},{"t":14644,"s":"U","v":0.0124},{"t":14648,"s":"U","v":0.0130},{"t":14655,"s":"U","v":0.0121},{"t":14663,"s":"U","v":0.0116},{"t":14670,"s":"U","v":0.0132},{"t":14680,"s":"U","v":0.0187},{"t":14700,"s":"U","v":0.0217},{"t":14760,"s":"U","v":0.0205},{"t":14848,"s":"U","v":0.0185},{"t":14890,"s":"U","v":0.0196},{"t":14950,"s":"U","v":0.0183},
{"t":14101,"s":"K","v":0.0155},{"t":14115,"s":"K","v":0.0172},{"t":14128,"s":"K","v":0.0186},{"t":14140,"s":"K","v":0.0190},{"t":14150,"s":"K","v":0.0187},{"t":14165,"s":"K","v":0.0179},{"t":14180,"s":"K","v":0.0174},{"t":14195,"s":"K","v":0.0173},{"t":14210,"s":"K","v":0.0176},{"t":14225,"s":"K","v":0.0178},{"t":14240,"s":"K","v":0.0176},{"t":14255,"s":"K","v":0.0175},{"t":14270,"s":"K","v":0.0177},{"t":14282,"s":"K","v":0.0181},{"t":14290,"s":"K","v":0.0165},{"t":14300,"s":"K","v":0.0150},{"t":14311,"s":"K","v":0.0138},{"t":14325,"s":"K","v":0.0127},{"t":14340,"s":"K","v":0.0122},{"t":14365,"s":"K","v":0.0120},{"t":14400,"s":"K","v":0.0120},{"t":14450,"s":"K","v":0.0121},{"t":14520,"s":"K","v":0.0122},{"t":14600,"s":"K","v":0.0123},{"t":14644,"s":"K","v":0.0124},{"t":14648,"s":"K","v":0.0126},{"t":14655,"s":"K","v":0.0120},{"t":14663,"s":"K","v":0.0116},{"t":14670,"s":"K","v":0.0130},{"t":14680,"s":"K","v":0.0185},{"t":14690,"s":"K","v":0.0212},{"t":14700,"s":"K","v":0.0217},{"t":14712,"s":"K","v":0.0218},{"t":14728,"s":"K","v":0.0216},{"t":14745,"s":"K","v":0.0210},{"t":14760,"s":"K","v":0.0205},{"t":14775,"s":"K","v":0.0202},{"t":14790,"s":"K","v":0.0200},{"t":14805,"s":"K","v":0.0196},{"t":14820,"s":"K","v":0.0192},{"t":14835,"s":"K","v":0.0188},{"t":14848,"s":"K","v":0.0185},{"t":14860,"s":"K","v":0.0186},{"t":14875,"s":"K","v":0.0192},{"t":14890,"s":"K","v":0.0196},{"t":14905,"s":"K","v":0.0195},{"t":14918,"s":"K","v":0.0190},{"t":14932,"s":"K","v":0.0185},{"t":14950,"s":"K","v":0.0183}
],
"h": [
{"t":14101,"s":"M","v":358.1},{"t":14102,"s":"M","v":370.2},{"t":14106,"s":"M","v":369.3},{"t":14111,"s":"M","v":368.5},{"t":14117,"s":"M","v":367.9},{"t":14123,"s":"M","v":368.8},{"t":14130,"s":"M","v":369.5},{"t":14141,"s":"M","v":370.3},{"t":14150,"s":"M","v":370.9},{"t":14158,"s":"M","v":371.5},{"t":14165,"s":"M","v":371.2},{"t":14172,"s":"M","v":371.9},{"t":14181,"s":"M","v":371.8},{"t":14189,"s":"M","v":371.2},{"t":14197,"s":"M","v":370.8},{"t":14205,"s":"M","v":370.7},{"t":14213,"s":"M","v":370.0},{"t":14221,"s":"M","v":369.8},{"t":14229,"s":"M","v":369.5},{"t":14237,"s":"M","v":369.2},{"t":14245,"s":"M","v":369.5},{"t":14253,"s":"M","v":369.3},{"t":14261,"s":"M","v":369.8},{"t":14269,"s":"M","v":369.4},{"t":14277,"s":"M","v":369.6},{"t":14281,"s":"M","v":365.0},{"t":14283,"s":"M","v":362.8},{"t":14285,"s":"M","v":381.9},{"t":14288,"s":"M","v":376.5},{"t":14292,"s":"M","v":378.2},{"t":14297,"s":"M","v":377.5},{"t":14303,"s":"M","v":378.0},{"t":14318,"s":"M","v":377.6},{"t":14333,"s":"M","v":378.1},{"t":14348,"s":"M","v":377.5},{"t":14363,"s":"M","v":378.0},{"t":14378,"s":"M","v":377.4},{"t":14393,"s":"M","v":378.0},{"t":14408,"s":"M","v":377.5},{"t":14423,"s":"M","v":378.1},{"t":14438,"s":"M","v":377.4},{"t":14453,"s":"M","v":377.9},{"t":14468,"s":"M","v":377.5},{"t":14483,"s":"M","v":378.0},{"t":14498,"s":"M","v":377.4},{"t":14513,"s":"M","v":377.9},{"t":14528,"s":"M","v":377.5},{"t":14543,"s":"M","v":378.0},{"t":14558,"s":"M","v":377.4},{"t":14573,"s":"M","v":377.9},{"t":14588,"s":"M","v":377.5},{"t":14603,"s":"M","v":378.0},{"t":14618,"s":"M","v":377.4},{"t":14633,"s":"M","v":377.9},{"t":14643,"s":"M","v":377.6},{"t":14648,"s":"M","v":369.8},{"t":14651,"s":"M","v":377.8},{"t":14654,"s":"M","v":383.1},{"t":14658,"s":"M","v":381.0},{"t":14663,"s":"M","v":381.4},{"t":14668,"s":"M","v":375.0},{"t":14673,"s":"M","v":365.6},{"t":14678,"s":"M","v":358.0},{"t":14683,"s":"M","v":354.8},{"t":14688,"s":"M","v":360.0},{"t":14695,"s":"M","v":364.4},{"t":14703,"s":"M","v":365.0},{"t":14711,"s":"M","v":364.6},{"t":14719,"s":"M","v":365.6},{"t":14727,"s":"M","v":365.2},{"t":14735,"s":"M","v":366.2},{"t":14743,"s":"M","v":365.8},{"t":14751,"s":"M","v":367.0},{"t":14759,"s":"M","v":366.4},{"t":14767,"s":"M","v":367.6},{"t":14775,"s":"M","v":367.2},{"t":14783,"s":"M","v":368.2},{"t":14791,"s":"M","v":367.8},{"t":14799,"s":"M","v":368.6},{"t":14807,"s":"M","v":368.1},{"t":14815,"s":"M","v":368.8},{"t":14823,"s":"M","v":368.3},{"t":14831,"s":"M","v":369.0},{"t":14839,"s":"M","v":368.4},{"t":14847,"s":"M","v":368.0},{"t":14855,"s":"M","v":367.8},{"t":14863,"s":"M","v":368.6},{"t":14871,"s":"M","v":369.1},{"t":14879,"s":"M","v":368.7},{"t":14887,"s":"M","v":368.2},{"t":14895,"s":"M","v":367.5},{"t":14903,"s":"M","v":367.0},{"t":14911,"s":"M","v":366.6},{"t":14919,"s":"M","v":367.5},{"t":14927,"s":"M","v":368.8},{"t":14935,"s":"M","v":369.8},{"t":14942,"s":"M","v":370.0},{"t":14950,"s":"M","v":369.6},
{"t":14101,"s":"U","v":371.5},{"t":14106,"s":"U","v":369.0},{"t":14115,"s":"U","v":367.5},{"t":14125,"s":"U","v":366.8},{"t":14141,"s":"U","v":366.6},{"t":14152,"s":"U","v":367.1},{"t":14180,"s":"U","v":369.5},{"t":14210,"s":"U","v":369.8},{"t":14250,"s":"U","v":370.0},{"t":14277,"s":"U","v":369.0},{"t":14285,"s":"U","v":367.9},{"t":14293,"s":"U","v":370.0},{"t":14301,"s":"U","v":372.3},{"t":14309,"s":"U","v":374.8},{"t":14333,"s":"U","v":377.6},{"t":14381,"s":"U","v":378.2},{"t":14640,"s":"U","v":377.8},{"t":14648,"s":"U","v":377.0},{"t":14653,"s":"U","v":377.8},{"t":14666,"s":"U","v":379.4},{"t":14672,"s":"U","v":377.2},{"t":14682,"s":"U","v":370.0},{"t":14701,"s":"U","v":363.4},{"t":14725,"s":"U","v":363.2},{"t":14785,"s":"U","v":367.2},{"t":14845,"s":"U","v":368.8},{"t":14901,"s":"U","v":367.0},{"t":14950,"s":"U","v":369.3},
{"t":14101,"s":"K","v":372.9},{"t":14110,"s":"K","v":370.5},{"t":14120,"s":"K","v":368.5},{"t":14130,"s":"K","v":367.3},{"t":14141,"s":"K","v":366.8},{"t":14152,"s":"K","v":367.2},{"t":14165,"s":"K","v":368.3},{"t":14180,"s":"K","v":369.5},{"t":14197,"s":"K","v":370.2},{"t":14210,"s":"K","v":369.8},{"t":14221,"s":"K","v":369.4},{"t":14235,"s":"K","v":369.9},{"t":14250,"s":"K","v":370.0},{"t":14265,"s":"K","v":369.6},{"t":14277,"s":"K","v":369.2},{"t":14285,"s":"K","v":368.8},{"t":14293,"s":"K","v":370.5},{"t":14301,"s":"K","v":372.5},{"t":14309,"s":"K","v":374.9},{"t":14320,"s":"K","v":376.6},{"t":14333,"s":"K","v":377.6},{"t":14350,"s":"K","v":378.1},{"t":14381,"s":"K","v":378.2},{"t":14450,"s":"K","v":378.1},{"t":14541,"s":"K","v":377.9},{"t":14640,"s":"K","v":377.8},{"t":14648,"s":"K","v":377.7},{"t":14653,"s":"K","v":378.2},{"t":14660,"s":"K","v":378.9},{"t":14666,"s":"K","v":379.6},{"t":14672,"s":"K","v":377.5},{"t":14677,"s":"K","v":373.5},{"t":14682,"s":"K","v":370.2},{"t":14690,"s":"K","v":366.0},{"t":14701,"s":"K","v":363.5},{"t":14715,"s":"K","v":363.1},{"t":14725,"s":"K","v":363.2},{"t":14740,"s":"K","v":364.2},{"t":14755,"s":"K","v":365.5},{"t":14770,"s":"K","v":366.5},{"t":14785,"s":"K","v":367.2},{"t":14800,"s":"K","v":367.8},{"t":14815,"s":"K","v":368.2},{"t":14830,"s":"K","v":368.6},{"t":14845,"s":"K","v":368.8},{"t":14860,"s":"K","v":368.5},{"t":14875,"s":"K","v":368.0},{"t":14890,"s":"K","v":367.3},{"t":14901,"s":"K","v":367.0},{"t":14915,"s":"K","v":367.6},{"t":14930,"s":"K","v":368.5},{"t":14950,"s":"K","v":369.3}
]
},
"vconcat": [
{
"spacing": 6,
"resolve": {"scale": {"x": "independent", "y": "independent", "color": "independent"}, "legend": {"color": "independent"}, "axis": {"x": "independent", "y": "independent"}},
"hconcat": [
{"data": {"name": "a"}, "width": 174, "height": 117, "title": {"text": "(a) Rotation x, 1"},
 "encoding": {
  "x": {"field": "t", "type": "quantitative", "scale": {"domain": [7401, 8665], "nice": false, "zero": false}, "axis": {"values": [7401, 7701, 8001, 8301, 8601], "format": "d", "title": "Temporal sample number"}},
  "y": {"field": "v", "type": "quantitative", "scale": {"domain": [2.04, 2.11], "nice": false, "zero": false}, "axis": {"values": [2.04, 2.05, 2.06, 2.07, 2.08, 2.09, 2.1, 2.11], "format": ".2f", "title": "x component of rotation"}},
  "color": {"field": "s", "type": "nominal", "scale": {"domain": ["M", "U", "K"], "range": ["#ff0000", "#0000ff", "#008000"]}, "legend": {"title": null, "orient": "bottom-left", "labelExpr": "datum.label == 'M' ? 'Measurement' : datum.label == 'U' ? 'UKF' : 'KF'"}}
 },
 "layer": [
  {"transform": [{"filter": "datum.s == 'M'"}], "mark": {"type": "line"}},
  {"transform": [{"filter": "datum.s == 'U'"}], "mark": {"type": "line"}},
  {"transform": [{"filter": "datum.s == 'K'"}], "mark": {"type": "line"}}
 ]
},
{"data": {"name": "b"}, "width": 171, "height": 117, "title": {"text": "(b) Rotation y, 1"},
 "encoding": {
  "x": {"field": "t", "type": "quantitative", "scale": {"domain": [7401, 8665], "nice": false, "zero": false}, "axis": {"values": [7401, 7701, 8001, 8301, 8601], "format": "d", "title": "Temporal sample number"}},
  "y": {"field": "v", "type": "quantitative", "scale": {"domain": [2.1209, 2.1349], "nice": false, "zero": false}, "axis": {"values": [2.122, 2.124, 2.126, 2.128, 2.13, 2.132, 2.134], "format": ".3f", "title": "y component of rotation"}},
  "color": {"field": "s", "type": "nominal", "scale": {"domain": ["M", "U", "K"], "range": ["#ff0000", "#0000ff", "#008000"]}, "legend": {"title": null, "orient": "bottom-left", "labelExpr": "datum.label == 'M' ? 'Measurement' : datum.label == 'U' ? 'UKF' : 'KF'"}}
 },
 "layer": [
  {"transform": [{"filter": "datum.s == 'M'"}], "mark": {"type": "line"}},
  {"transform": [{"filter": "datum.s == 'U'"}], "mark": {"type": "line"}},
  {"transform": [{"filter": "datum.s == 'K'"}], "mark": {"type": "line"}}
 ]
},
{"data": {"name": "c"}, "width": 157, "height": 117, "title": {"text": "(c) Rotation z, 1"},
 "encoding": {
  "x": {"field": "t", "type": "quantitative", "scale": {"domain": [7401, 8665], "nice": false, "zero": false}, "axis": {"values": [7401, 7701, 8001, 8301, 8601], "format": "d", "title": "Temporal sample number"}},
  "y": {"field": "v", "type": "quantitative", "scale": {"domain": [-0.0223, 0.0217], "nice": false, "zero": false}, "axis": {"values": [-0.02, -0.015, -0.01, -0.005, 0, 0.005, 0.01, 0.015, 0.02], "format": ".3f", "title": "z component of rotation"}},
  "color": {"field": "s", "type": "nominal", "scale": {"domain": ["M", "U", "K"], "range": ["#ff0000", "#0000ff", "#008000"]}, "legend": {"title": null, "orient": "bottom-left", "labelExpr": "datum.label == 'M' ? 'Measurement' : datum.label == 'U' ? 'UKF' : 'KF'"}}
 },
 "layer": [
  {"transform": [{"filter": "datum.s == 'M'"}], "mark": {"type": "line"}},
  {"transform": [{"filter": "datum.s == 'U'"}], "mark": {"type": "line"}},
  {"transform": [{"filter": "datum.s == 'K'"}], "mark": {"type": "line"}}
 ]
},
{"data": {"name": "d"}, "width": 168, "height": 117, "title": {"text": "(d) Translation y, 1"},
 "encoding": {
  "x": {"field": "t", "type": "quantitative", "scale": {"domain": [7401, 8665], "nice": false, "zero": false}, "axis": {"values": [7401, 7701, 8001, 8301, 8601], "format": "d", "title": "Temporal sample number"}},
  "y": {"field": "v", "type": "quantitative", "scale": {"domain": [364.5, 423], "nice": false, "zero": false}, "axis": {"values": [370, 380, 390, 400, 410, 420], "format": "d", "title": "y component of translation"}},
  "color": {"field": "s", "type": "nominal", "scale": {"domain": ["M", "U", "K"], "range": ["#ff0000", "#0000ff", "#008000"]}, "legend": {"title": null, "orient": "top-left", "labelExpr": "datum.label == 'M' ? 'Measurement' : datum.label == 'U' ? 'UKF' : 'KF'"}}
 },
 "layer": [
  {"transform": [{"filter": "datum.s == 'M'"}], "mark": {"type": "line"}},
  {"transform": [{"filter": "datum.s == 'U'"}], "mark": {"type": "line"}},
  {"transform": [{"filter": "datum.s == 'K'"}], "mark": {"type": "line"}}
 ]
}
]
},
{
"spacing": 6,
"resolve": {"scale": {"x": "independent", "y": "independent", "color": "independent"}, "legend": {"color": "independent"}, "axis": {"x": "independent", "y": "independent"}},
"hconcat": [
{"data": {"name": "e"}, "width": 174, "height": 114, "title": {"text": "(e) Rotation x, 3"},
 "encoding": {
  "x": {"field": "t", "type": "quantitative", "scale": {"domain": [14101, 14950], "nice": false, "zero": false}, "axis": {"values": [14101, 14401, 14701], "format": "d", "title": "Temporal sample number"}},
  "y": {"field": "v", "type": "quantitative", "scale": {"domain": [2.085, 2.12], "nice": false, "zero": false}, "axis": {"values": [2.085, 2.09, 2.095, 2.1, 2.105, 2.11, 2.115, 2.12], "format": ".3f", "title": "x component of rotation"}},
  "color": {"field": "s", "type": "nominal", "scale": {"domain": ["M", "U", "K"], "range": ["#ff0000", "#0000ff", "#008000"]}, "legend": {"title": null, "orient": "top-left", "labelExpr": "datum.label == 'M' ? 'Measurement' : datum.label == 'U' ? 'UKF' : 'KF'"}}
 },
 "layer": [
  {"transform": [{"filter": "datum.s == 'M'"}], "mark": {"type": "line"}},
  {"transform": [{"filter": "datum.s == 'U'"}], "mark": {"type": "line"}},
  {"transform": [{"filter": "datum.s == 'K'"}], "mark": {"type": "line"}}
 ]
},
{"data": {"name": "f"}, "width": 171, "height": 114, "title": {"text": "(f) Rotation y, 3"},
 "encoding": {
  "x": {"field": "t", "type": "quantitative", "scale": {"domain": [14101, 14950], "nice": false, "zero": false}, "axis": {"values": [14101, 14401, 14701], "format": "d", "title": "Temporal sample number"}},
  "y": {"field": "v", "type": "quantitative", "scale": {"domain": [2.131, 2.14], "nice": false, "zero": false}, "axis": {"values": [2.132, 2.134, 2.136, 2.138, 2.14], "format": ".3f", "title": "y component of rotation"}},
  "color": {"field": "s", "type": "nominal", "scale": {"domain": ["M", "U", "K"], "range": ["#ff0000", "#0000ff", "#008000"]}, "legend": {"title": null, "orient": "top-left", "labelExpr": "datum.label == 'M' ? 'Measurement' : datum.label == 'U' ? 'UKF' : 'KF'"}}
 },
 "layer": [
  {"transform": [{"filter": "datum.s == 'M'"}], "mark": {"type": "line"}},
  {"transform": [{"filter": "datum.s == 'U'"}], "mark": {"type": "line"}},
  {"transform": [{"filter": "datum.s == 'K'"}], "mark": {"type": "line"}}
 ]
},
{"data": {"name": "g"}, "width": 158, "height": 114, "title": {"text": "(g) Rotation z, 3"},
 "encoding": {
  "x": {"field": "t", "type": "quantitative", "scale": {"domain": [14101, 14950], "nice": false, "zero": false}, "axis": {"values": [14101, 14401, 14701], "format": "d", "title": "Temporal sample number"}},
  "y": {"field": "v", "type": "quantitative", "scale": {"domain": [0.0075, 0.0275], "nice": false, "zero": false}, "axis": {"values": [0.0075, 0.01, 0.0125, 0.015, 0.0175, 0.02, 0.0225, 0.025, 0.0275], "format": ".4f", "title": "z component of rotation"}},
  "color": {"field": "s", "type": "nominal", "scale": {"domain": ["M", "U", "K"], "range": ["#ff0000", "#0000ff", "#008000"]}, "legend": {"title": null, "orient": "top-left", "labelExpr": "datum.label == 'M' ? 'Measurement' : datum.label == 'U' ? 'UKF' : 'KF'"}}
 },
 "layer": [
  {"transform": [{"filter": "datum.s == 'M'"}], "mark": {"type": "line"}},
  {"transform": [{"filter": "datum.s == 'U'"}], "mark": {"type": "line"}},
  {"transform": [{"filter": "datum.s == 'K'"}], "mark": {"type": "line"}}
 ]
},
{"data": {"name": "h"}, "width": 173, "height": 114, "title": {"text": "(h) Translation y, 3"},
 "encoding": {
  "x": {"field": "t", "type": "quantitative", "scale": {"domain": [14101, 14950], "nice": false, "zero": false}, "axis": {"values": [14101, 14401, 14701], "format": "d", "title": "Temporal sample number"}},
  "y": {"field": "v", "type": "quantitative", "scale": {"domain": [352, 385], "nice": false, "zero": false}, "axis": {"values": [355, 360, 365, 370, 375, 380, 385], "format": "d", "title": "y component of translation"}},
  "color": {"field": "s", "type": "nominal", "scale": {"domain": ["M", "U", "K"], "range": ["#ff0000", "#0000ff", "#008000"]}, "legend": {"title": null, "orient": "bottom-left", "labelExpr": "datum.label == 'M' ? 'Measurement' : datum.label == 'U' ? 'UKF' : 'KF'"}}
 },
 "layer": [
  {"transform": [{"filter": "datum.s == 'M'"}], "mark": {"type": "line"}},
  {"transform": [{"filter": "datum.s == 'U'"}], "mark": {"type": "line"}},
  {"transform": [{"filter": "datum.s == 'K'"}], "mark": {"type": "line"}}
 ]
}
]
}
],
"spacing": 36,
"resolve": {"scale": {"x": "independent", "y": "independent", "color": "independent"}, "legend": {"color": "independent"}}
}
